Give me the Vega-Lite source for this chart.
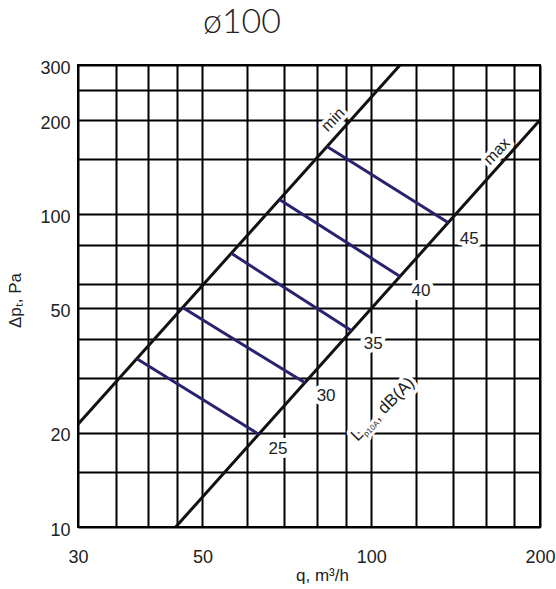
{
  "$schema": "https://vega.github.io/schema/vega-lite/v6.json",
  "width": 462,
  "height": 462,
  "autosize": {"type": "none"},
  "padding": {"left": 78, "top": 65, "right": 16, "bottom": 62},
  "background": "white",
  "config": {"view": {"stroke": "black", "strokeWidth": 2}, "font": "Liberation Sans"},
  "title": {"text": "ø100", "font": "Lato", "fontWeight": 300, "fontSize": 34, "color": "#222222", "anchor": "middle", "frame": "group", "dx": -67, "offset": 19},
  "datasets": {
    "curves": [
      {"q": 30, "dp": 21.3, "s": "min"},
      {"q": 112.6, "dp": 300, "s": "min"},
      {"q": 44.8, "dp": 10, "s": "max"},
      {"q": 200, "dp": 200, "s": "max"}
    ],
    "levels": [
      {"q": 38.2, "dp": 34.5, "L": 25}, {"q": 63.0, "dp": 19.8, "L": 25},
      {"q": 46.1, "dp": 50.3, "L": 30}, {"q": 76.2, "dp": 28.9, "L": 30},
      {"q": 56.3, "dp": 75.0, "L": 35}, {"q": 92.3, "dp": 42.4, "L": 35},
      {"q": 68.6, "dp": 111.4, "L": 40}, {"q": 112.6, "dp": 63.2, "L": 40},
      {"q": 83.4, "dp": 164.6, "L": 45}, {"q": 137.3, "dp": 93.9, "L": 45}
    ],
    "nums": [
      {"q": 68.2, "dp": 17.7, "t": "25"},
      {"q": 83.1, "dp": 26.2, "t": "30"},
      {"q": 100.8, "dp": 38.6, "t": "35"},
      {"q": 122.7, "dp": 57.0, "t": "40"},
      {"q": 149.5, "dp": 83.6, "t": "45"}
    ],
    "names": [
      {"q": 85.5, "dp": 200.6, "t": "min"},
      {"q": 167.5, "dp": 158.9, "t": "max"}
    ],
    "lab": [
      {"q": 94.5, "dp": 18.7, "a": "L", "b": "p10A", "c": ", dB(A)"}
    ]
  },
  "encoding": {
    "x": {"field": "q", "type": "quantitative",
      "scale": {"type": "log", "domain": [30, 200], "nice": false},
      "axis": {"title": "q, m³/h",
        "values": [30, 35, 40, 45, 50, 60, 70, 80, 90, 100, 120, 140, 160, 180, 200],
        "labelExpr": "indexof([30, 50, 100, 200], datum.value) >= 0 ? '' + datum.value : ''",
        "grid": true, "gridColor": "black", "gridWidth": 2, "gridOpacity": 1,
        "ticks": false, "domain": false, "labelPadding": 21, "labelFontSize": 18,
        "labelColor": "#222222", "labelFlush": false, "labelOverlap": false,
        "titleFontSize": 17, "titleFontWeight": "normal", "titleColor": "#222222",
        "titleX": 244, "titleY": 53, "titleBaseline": "alphabetic", "titleAlign": "center"}},
    "y": {"field": "dp", "type": "quantitative",
      "scale": {"type": "log", "domain": [10, 300], "nice": false},
      "axis": {"title": "Δpₜ, Pa",
        "values": [10, 15, 20, 30, 40, 50, 60, 80, 100, 150, 200, 250, 300],
        "labelExpr": "indexof([10, 20, 50, 100, 200, 300], datum.value) >= 0 ? '' + datum.value : ''",
        "grid": true, "gridColor": "black", "gridWidth": 2, "gridOpacity": 1,
        "ticks": false, "domain": false, "labelPadding": 8, "labelFontSize": 18,
        "labelColor": "#222222", "labelFlush": false, "labelOverlap": false, "labelOffset": 3,
        "titleFontSize": 17, "titleFontWeight": "normal", "titleColor": "#222222",
        "titleX": -58, "titleY": 235, "titleAngle": 270, "titleBaseline": "alphabetic", "titleAlign": "center"}}
  },
  "layer": [
    {"data": {"name": "curves"}, "mark": {"type": "line", "color": "#111111", "strokeWidth": 3, "clip": true},
     "encoding": {"detail": {"field": "s"}}},
    {"data": {"name": "levels"}, "mark": {"type": "line", "color": "#28226f", "strokeWidth": 3},
     "encoding": {"detail": {"field": "L"}}},
    {"data": {"name": "nums"}, "mark": {"type": "text", "fontSize": 17, "color": "white", "stroke": "white", "strokeWidth": 8, "strokeJoin": "round", "align": "center", "baseline": "middle"},
     "encoding": {"text": {"field": "t"}}},
    {"data": {"name": "nums"}, "mark": {"type": "text", "fontSize": 17, "color": "#222222", "align": "center", "baseline": "middle"},
     "encoding": {"text": {"field": "t"}}},
    {"data": {"name": "names"}, "mark": {"type": "text", "fontSize": 16, "angle": 314, "color": "white", "stroke": "white", "strokeWidth": 7, "strokeJoin": "round", "align": "center", "baseline": "middle"},
     "encoding": {"text": {"field": "t"}}},
    {"data": {"name": "names"}, "mark": {"type": "text", "fontSize": 16, "angle": 314, "color": "#222222", "align": "center", "baseline": "middle"},
     "encoding": {"text": {"field": "t"}}},
    {"data": {"name": "lab"}, "mark": {"type": "text", "fontSize": 17, "angle": 315, "color": "white", "stroke": "white", "strokeWidth": 7, "strokeJoin": "round", "align": "left", "baseline": "alphabetic"},
     "encoding": {"text": {"field": "a"}}},
    {"data": {"name": "lab"}, "mark": {"type": "text", "fontSize": 8, "angle": 315, "dx": 10, "dy": 3, "color": "white", "stroke": "white", "strokeWidth": 6, "strokeJoin": "round", "align": "left", "baseline": "alphabetic"},
     "encoding": {"text": {"field": "b"}}},
    {"data": {"name": "lab"}, "mark": {"type": "text", "fontSize": 17, "angle": 315, "dx": 29, "color": "white", "stroke": "white", "strokeWidth": 7, "strokeJoin": "round", "align": "left", "baseline": "alphabetic"},
     "encoding": {"text": {"field": "c"}}},
    {"data": {"name": "lab"}, "mark": {"type": "text", "fontSize": 17, "angle": 315, "color": "#222222", "align": "left", "baseline": "alphabetic"},
     "encoding": {"text": {"field": "a"}}},
    {"data": {"name": "lab"}, "mark": {"type": "text", "fontSize": 8, "angle": 315, "dx": 10, "dy": 3, "color": "#222222", "align": "left", "baseline": "alphabetic"},
     "encoding": {"text": {"field": "b"}}},
    {"data": {"name": "lab"}, "mark": {"type": "text", "fontSize": 17, "angle": 315, "dx": 29, "color": "#222222", "align": "left", "baseline": "alphabetic"},
     "encoding": {"text": {"field": "c"}}}
  ]
}
